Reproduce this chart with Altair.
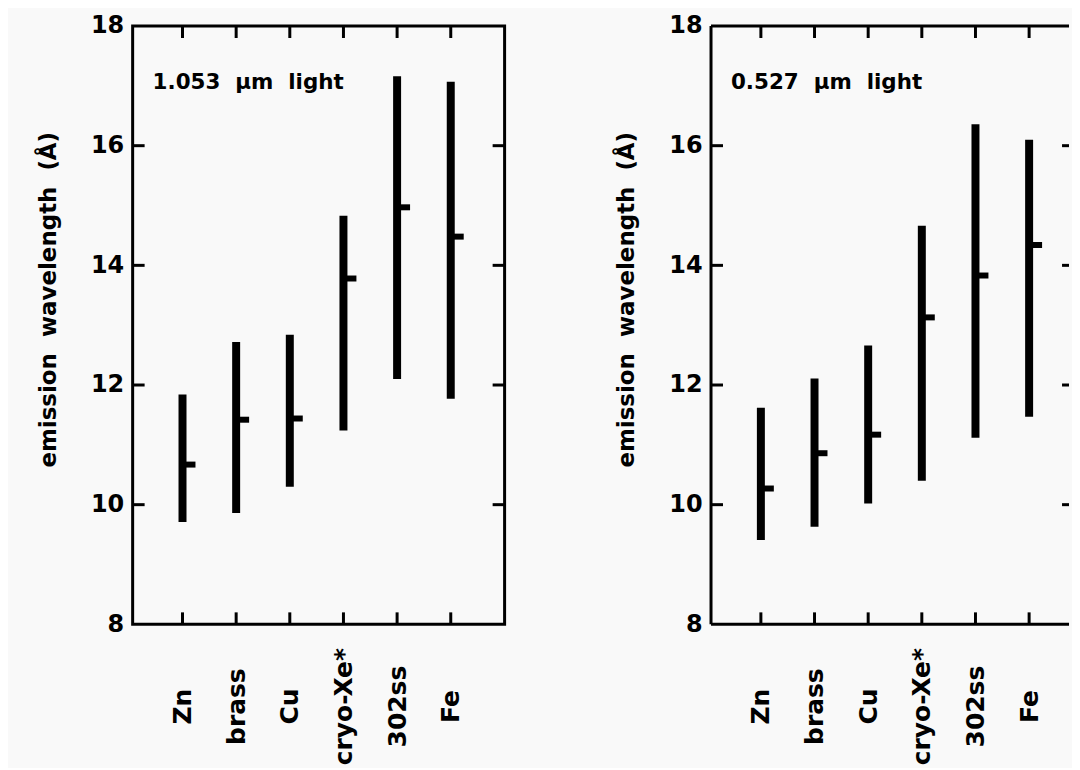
import altair as alt
import pandas as pd

# ---- data ----
cats = ["Zn", "brass", "Cu", "cryo-Xe*", "302ss", "Fe"]

ir_low = [9.71, 9.86, 10.30, 11.24, 12.10, 11.77]
ir_high = [11.84, 12.72, 12.84, 14.83, 17.16, 17.07]
ir_mid = [10.67, 11.42, 11.44, 13.78, 14.97, 14.48]

gr_low = [9.41, 9.63, 10.02, 10.40, 11.12, 11.47]
gr_high = [11.62, 12.11, 12.66, 14.66, 16.36, 16.10]
gr_mid = [10.27, 10.86, 11.17, 13.13, 13.83, 14.34]

y_ticks = [8, 10, 12, 14, 16, 18]
inner_ticks = [10, 12, 14, 16]

notes = ["1.053\u00a0\u00a0\u00b5m\u00a0\u00a0light", "0.527\u00a0\u00a0\u00b5m\u00a0\u00a0light"]
y_title = "emission\u00a0\u00a0wavelength\u00a0\u00a0(\u00c5)"

W, H = 373, 600
W_R = 359          # right panel is cut off by the page edge, as in the original
FONT = "DejaVu Sans"
TK = 12
X_RANGE = [50, 319]

X_AXIS = alt.Axis(
    title=None, labelAngle=-90, labelAlign="center", labelBaseline="middle",
    labelPadding=82, ticks=False, domain=False, grid=False,
    labelFont=FONT, labelFontSize=25, labelFontWeight="bold",
    labelColor="black",
)
Y_AXIS = alt.Axis(
    values=y_ticks, title=y_title, ticks=False, domain=False, grid=False,
    labelFont=FONT, labelFontSize=24, labelFontWeight="bold",
    labelColor="black", labelPadding=9,
    titleFont=FONT, titleFontSize=23, titleFontWeight="bold",
    titleColor="black", titlePadding=30, titleY=274,
)


def panel(low, high, mid, note, width, framed):
    df = pd.DataFrame({"cat": cats, "low": low, "high": high, "mid": mid})
    xsc = alt.Scale(type="point", range=X_RANGE, padding=0)
    ysc = alt.Scale(domain=[8, 18], nice=False, zero=False)

    def xe():
        return alt.X("cat:N", sort=cats, scale=xsc, axis=X_AXIS)

    def ye(field):
        return alt.Y(field, scale=ysc, axis=Y_AXIS)

    bars = alt.Chart(df).mark_rule(strokeWidth=8, color="black").encode(
        x=xe(), y=ye("low:Q"), y2="high:Q"
    )
    centers = alt.Chart(df).mark_tick(
        orient="horizontal", size=13, thickness=6, xOffset=6.5, color="black",
        opacity=1,
    ).encode(x=xe(), y=ye("mid:Q"))

    rtk = TK if framed else 7
    tdf = pd.DataFrame({"v": inner_ticks})
    left_t = alt.Chart(tdf).mark_rule(strokeWidth=3, color="black").encode(
        y=ye("v:Q"), x=alt.value(0), x2=alt.value(TK)
    )
    right_t = alt.Chart(tdf).mark_rule(strokeWidth=3, color="black").encode(
        y=ye("v:Q"), x=alt.value(width - rtk), x2=alt.value(width)
    )
    bot_t = alt.Chart(df).mark_rule(strokeWidth=3, color="black").encode(
        x=xe(), y=alt.value(H), y2=alt.value(H - TK)
    )
    top_t = alt.Chart(df).mark_rule(strokeWidth=3, color="black").encode(
        x=xe(), y=alt.value(0), y2=alt.value(TK)
    )
    ndf = pd.DataFrame({"t": [note]})
    txt = alt.Chart(ndf).mark_text(
        align="left", baseline="middle", font=FONT, fontSize=21.5,
        fontWeight="bold", color="black",
    ).encode(x=alt.value(20), y=alt.value(57), text="t:N")

    layers = [bars, centers, left_t, right_t, bot_t, top_t, txt]
    if not framed:
        fdf = pd.DataFrame({"k": [0]})
        base = alt.Chart(fdf).mark_rule(strokeWidth=3, color="black")
        layers += [
            base.encode(x=alt.value(0), y=alt.value(0), y2=alt.value(H)),
            base.encode(x=alt.value(0), x2=alt.value(width), y=alt.value(0)),
            base.encode(x=alt.value(0), x2=alt.value(width), y=alt.value(H)),
        ]
    ch = alt.layer(*layers).properties(width=width, height=H)
    if not framed:
        ch = ch.properties(view=alt.ViewBackground(stroke="transparent"))
    return ch


left = panel(ir_low, ir_high, ir_mid, notes[0], W, True)
right = panel(gr_low, gr_high, gr_mid, notes[1], W_R, False)

chart = (
    alt.hconcat(left, right, spacing=107)
    .properties(padding={"left": 28, "top": 3, "right": 0, "bottom": 0})
    .configure(background="#f9f9f9")
    .configure_view(stroke="black", strokeWidth=3)
)

chart.save("out.html", embed_options={"renderer": "svg", "actions": False})
